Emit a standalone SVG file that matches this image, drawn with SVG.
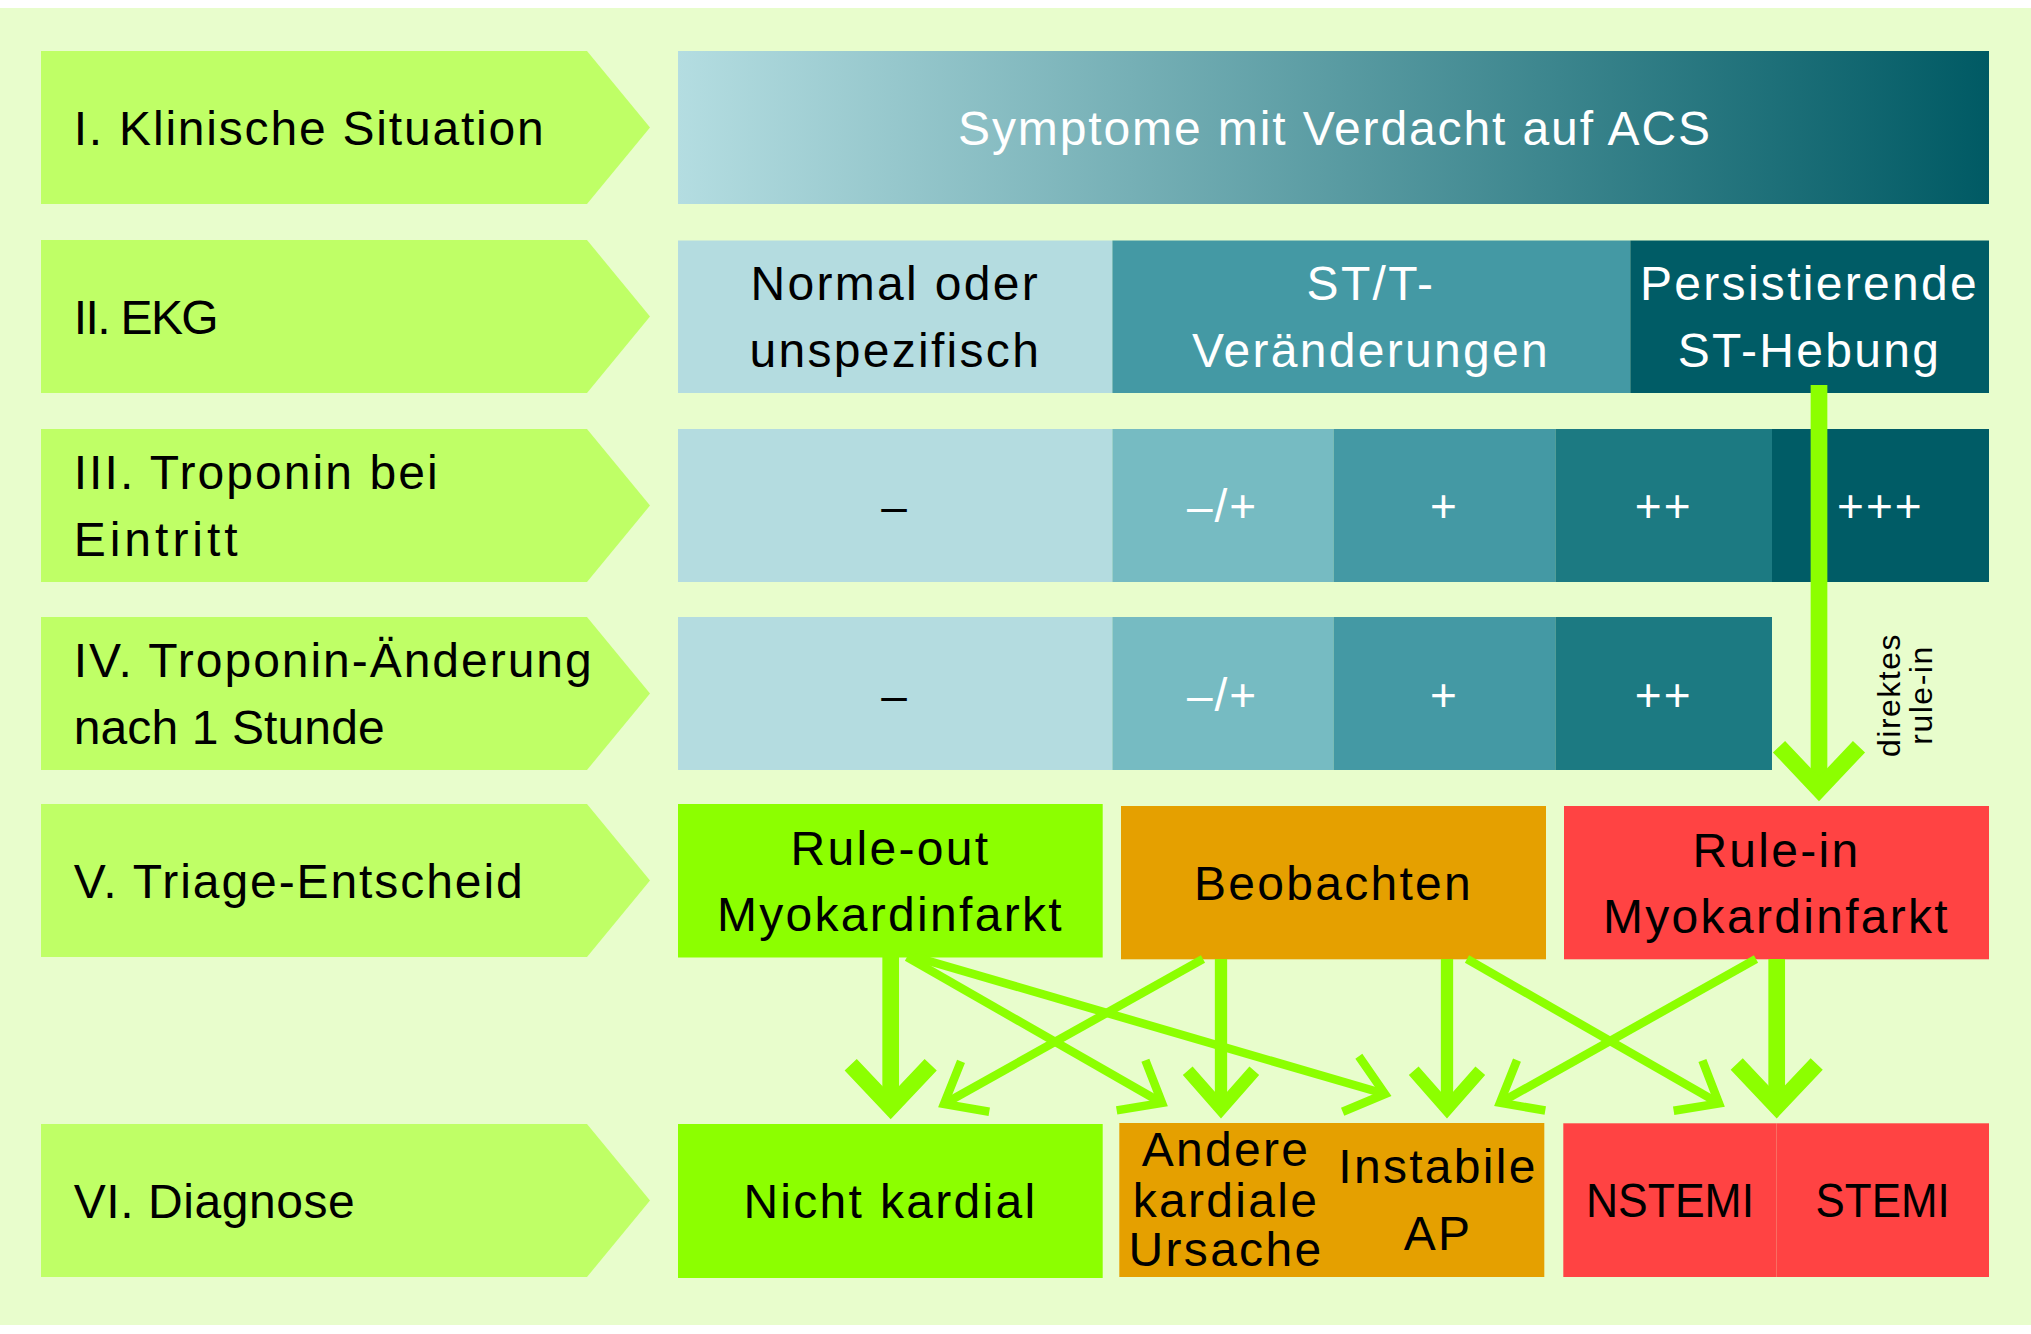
<svg xmlns="http://www.w3.org/2000/svg" width="2031" height="1334" viewBox="0 0 2031 1334">
<defs>
<style>
.t{font-family:"Liberation Sans",Arial,sans-serif;font-size:48px;letter-spacing:2.3px}
.f{letter-spacing:0px}
.s{font-family:"Liberation Sans",Arial,sans-serif;font-size:46px;letter-spacing:2px;text-anchor:middle}
.m{text-anchor:middle}
.k{fill:#000}
.w{fill:#fff}
.chev{fill:#bfff66}
.c1{fill:#b4dce0}.c2{fill:#76bbc2}.c3{fill:#4499a4}.c4{fill:#1c7a82}.c5{fill:#005c66}
.gr{fill:#8cff00}.or{fill:#e5a000}.rd{fill:#ff4343}
.cn{stroke:#8cff00;fill:none;stroke-linecap:butt}
.cl{stroke-width:16.7;marker-end:url(#ahL)}
.cm{stroke-width:12.3;marker-end:url(#ahM)}
.cs{stroke-width:8.5;marker-end:url(#ahS)}
</style>
<linearGradient id="gI" x1="0" y1="0" x2="1" y2="0">
<stop offset="0" stop-color="#b4dde1"/>
<stop offset="1" stop-color="#005a64"/>
</linearGradient>
<marker id="ahL" markerUnits="userSpaceOnUse" orient="auto" markerWidth="1" markerHeight="1" refX="0" refY="0" overflow="visible" style="overflow:visible">
<path d="M-42.3,-40 L0,0 L-42.3,40" fill="none" stroke="#8cff00" stroke-width="16.7" stroke-linejoin="miter"/>
</marker>
<marker id="ahM" markerUnits="userSpaceOnUse" orient="auto" markerWidth="1" markerHeight="1" refX="0" refY="0" overflow="visible" style="overflow:visible">
<path d="M-37.9,-33.3 L0,0 L-37.9,33.3" fill="none" stroke="#8cff00" stroke-width="13" stroke-linejoin="miter"/>
</marker>
<marker id="ahS" markerUnits="userSpaceOnUse" orient="auto" markerWidth="1" markerHeight="1" refX="0" refY="0" overflow="visible" style="overflow:visible">
<path d="M-35.7,-28.9 L0,0 L-35.7,28.9" fill="none" stroke="#8cff00" stroke-width="8.5" stroke-linejoin="miter"/>
</marker>
</defs>
<rect x="0" y="0" width="2031" height="1334" fill="#ffffff"/>
<rect x="0" y="8" width="2031" height="1317" fill="#e8fdcc"/>

<g id="stage-1"><polygon class="chev" points="41,51 587,51 650,127.5 587,204 41,204"/><text class="t f k" x="73.7" y="144.5" textLength="470" lengthAdjust="spacing">I. Klinische Situation</text></g>
<g id="stage-2"><polygon class="chev" points="41,240 587,240 650,316.5 587,393 41,393"/><text class="t f k" x="73.7" y="333.5" textLength="145" lengthAdjust="spacing">II. EKG</text></g>
<g id="stage-3"><polygon class="chev" points="41,429 587,429 650,505.5 587,582 41,582"/><text class="t f k" x="73.7" y="489" textLength="364" lengthAdjust="spacing">III. Troponin bei</text><text class="t f k" x="73.7" y="556" textLength="164" lengthAdjust="spacing">Eintritt</text></g>
<g id="stage-4"><polygon class="chev" points="41,617 587,617 650,693.5 587,770 41,770"/><text class="t f k" x="73.7" y="677" textLength="518" lengthAdjust="spacing">IV. Troponin-Änderung</text><text class="t f k" x="73.7" y="744" textLength="311" lengthAdjust="spacing">nach 1 Stunde</text></g>
<g id="stage-5"><polygon class="chev" points="41,804 587,804 650,880.5 587,957 41,957"/><text class="t f k" x="73.7" y="897.5" textLength="449" lengthAdjust="spacing">V. Triage-Entscheid</text></g>
<g id="stage-6"><polygon class="chev" points="41,1124 587,1124 650,1200.5 587,1277 41,1277"/><text class="t f k" x="73.7" y="1217.5" textLength="281" lengthAdjust="spacing">VI. Diagnose</text></g>

<g id="symptome"><rect x="678" y="51" width="1311" height="153" fill="url(#gI)"/><text class="t f w m" x="1334" y="144.5" textLength="752" lengthAdjust="spacing">Symptome mit Verdacht auf ACS</text></g>

<g id="ekg-normal"><rect class="c1" x="678" y="240.5" width="434.4" height="152.5"/><text class="t k m" x="895.3" y="300">Normal oder</text><text class="t k m" x="895.3" y="367">unspezifisch</text></g>
<g id="ekg-stt"><rect class="c3" x="1112.4" y="240.5" width="517.9" height="152.5"/><text class="t w m" x="1371" y="300">ST/T-</text><text class="t w m" x="1371" y="367">Veränderungen</text></g>
<g id="ekg-ste"><rect class="c5" x="1630.3" y="240.5" width="358.7" height="152.5"/><text class="t w m" x="1809.5" y="300">Persistierende</text><text class="t w m" x="1809.5" y="367">ST-Hebung</text></g>

<g id="trop-neg"><rect class="c1" x="678" y="429" width="434.4" height="153"/><text class="s k" x="895" y="522">–</text></g>
<g id="trop-neut"><rect class="c2" x="1112.4" y="429" width="221.1" height="153"/><text class="s w" x="1222.5" y="522">–/+</text></g>
<g id="trop-p1"><rect class="c3" x="1333.5" y="429" width="221.9" height="153"/><text class="s w" x="1444.5" y="522">+</text></g>
<g id="trop-p2"><rect class="c4" x="1555.4" y="429" width="216.6" height="153"/><text class="s w" x="1663.7" y="522">++</text></g>
<g id="trop-p3"><rect class="c5" x="1772" y="429" width="217" height="153"/><text class="s w" x="1880.4" y="522">+++</text></g>

<g id="delta-neg"><rect class="c1" x="678" y="617" width="434.4" height="153"/><text class="s k" x="895" y="711">–</text></g>
<g id="delta-neut"><rect class="c2" x="1112.4" y="617" width="221.1" height="153"/><text class="s w" x="1222.5" y="711">–/+</text></g>
<g id="delta-p1"><rect class="c3" x="1333.5" y="617" width="221.9" height="153"/><text class="s w" x="1444.5" y="711">+</text></g>
<g id="delta-p2"><rect class="c4" x="1555.4" y="617" width="216.6" height="153"/><text class="s w" x="1663.7" y="711">++</text></g>

<g id="rule-out"><rect class="gr" x="678" y="804" width="424.7" height="153.5"/><text class="t k m" x="890.4" y="865">Rule-out</text><text class="t k m" x="890.4" y="931">Myokardinfarkt</text></g>
<g id="beobachten"><rect class="or" x="1121" y="806" width="425" height="153.3"/><text class="t k m" x="1333.5" y="899.5">Beobachten</text></g>
<g id="rule-in"><rect class="rd" x="1564" y="806" width="425" height="153.3"/><text class="t k m" x="1776.5" y="866.5">Rule-in</text><text class="t k m" x="1776.5" y="933">Myokardinfarkt</text></g>

<g id="nicht-kardial"><rect class="gr" x="678" y="1124" width="424.7" height="154"/><text class="t k m" x="890.4" y="1218">Nicht kardial</text></g>
<g id="andere-kardial"><rect class="or" x="1119.3" y="1123" width="213" height="154"/><text class="t k m" x="1226" y="1166">Andere</text><text class="t k m" x="1226" y="1217">kardiale</text><text class="t k m" x="1226" y="1266">Ursache</text></g>
<g id="instabile-ap"><rect class="or" x="1332" y="1123" width="212.3" height="154"/><text class="t k m" x="1438" y="1183">Instabile</text><text class="t k m" x="1438" y="1250">AP</text></g>
<g id="nstemi"><rect class="rd" x="1563.3" y="1123.3" width="213.3" height="153.7"/><text class="t f k m" x="1670" y="1217" textLength="168" lengthAdjust="spacingAndGlyphs">NSTEMI</text></g>
<g id="stemi"><rect class="rd" x="1776.6" y="1123.3" width="212.4" height="153.7"/><text class="t f k m" x="1882.6" y="1217" textLength="134" lengthAdjust="spacingAndGlyphs">STEMI</text></g>

<g id="connectors">
<path class="cn cl" d="M1819,385 V789"/>
<path class="cn cl" d="M890.7,957 V1107"/>
<path class="cn cl" d="M1776.7,959 V1106.3"/>
<path class="cn cm" d="M1221,959 V1108.6"/>
<path class="cn cm" d="M1447,959 V1108.6"/>
<path class="cn cs" d="M907,957 L1162,1103"/>
<path class="cn cs" d="M915,957 L1385,1094"/>
<path class="cn cs" d="M1203,959 L944,1104"/>
<path class="cn cs" d="M1467,959 L1719,1103.4"/>
<path class="cn cs" d="M1756,959 L1500,1102.8"/>
<text font-family="Liberation Sans, Arial, sans-serif" font-size="32" letter-spacing="1.5" fill="#000" text-anchor="middle" transform="translate(1900,695) rotate(-90)"><tspan x="0" y="0">direktes</tspan><tspan x="0" y="31.7">rule-in</tspan></text>
</g>
</svg>
